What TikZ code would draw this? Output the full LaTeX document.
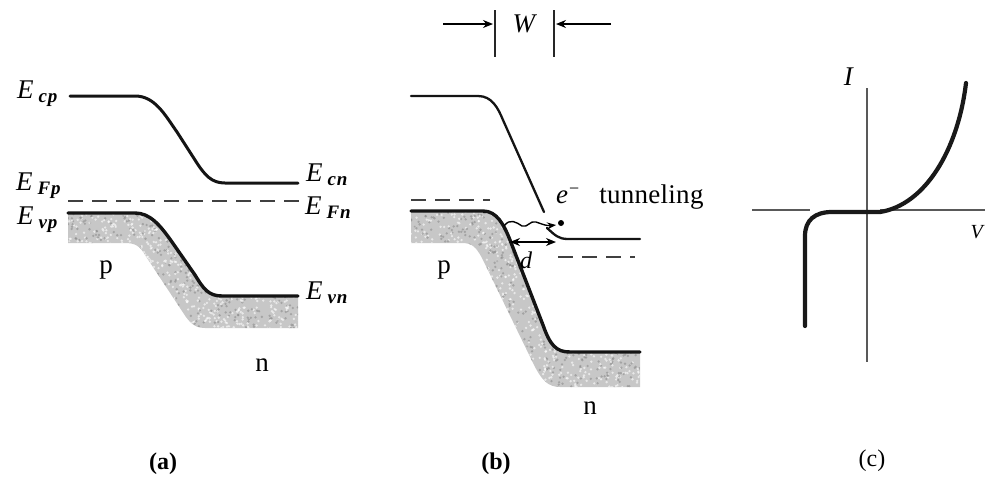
\documentclass[tikz,border=0pt]{standalone}
\usepackage{fontspec}
\setmainfont{Liberation Serif}
\usetikzlibrary{arrows.meta}
\newcommand{\bandlab}[2]{\textit{#1}\kern5pt\raisebox{-4pt}{\fontsize{19}{19}\selectfont\bfseries\itshape\addfontfeature{LetterSpace=4}#2}}
\tikzset{
  band/.style={line width=3pt,line cap=round,black!92},
  thinband/.style={line width=2.3pt,line cap=round,black!92},
  fermi/.style={line width=1.8pt,dash pattern=on 15pt off 9pt,black!75},
  axis/.style={line width=1.3pt,black!65},
  lab/.style={inner sep=0pt,font=\fontsize{27}{27}\selectfont},
  caplab/.style={inner sep=0pt,font=\fontsize{24}{24}\selectfont},
  shade/.style={fill=black!22,draw=none},
  dimarrow/.style={line width=1.3pt,-{Stealth[length=10pt,width=8pt]}},
}
\newcommand{\specks}[6]{% seed, x0, xspan, y0, yspan, count
  \pgfmathsetseed{#1}%
  \foreach \i in {1,...,#6}{%
    \pgfmathsetmacro{\px}{#2+rnd*#3}%
    \pgfmathsetmacro{\py}{#4+rnd*#5}%
    \pgfmathsetmacro{\pg}{rnd>0.55?45:0}%
    \fill[black!\pg!white,opacity=.6] (\px,\py) circle (1.3);%
  }}
\begin{document}
\begin{tikzpicture}[x=1pt,y=-1pt]
\useasboundingbox (0,0) rectangle (986,480);
% panel a shading
\begin{scope}
\clip (68,213) -- (135,213) .. controls (150,213) and (160,225) .. (172,242) -- (195,275) .. controls (203,288) and (208,296) .. (222,296) -- (298,296) -- (298,328) -- (205,328) .. controls (192,328) and (188,320) .. (180,308) -- (145,255) .. controls (140,246) and (135,243) .. (125,243) -- (68,243) -- cycle;
\fill[shade] (60,205) rectangle (305,335);
\specks{11}{60}{245}{205}{130}{1800}
\end{scope}
% panel b shading
\begin{scope}
\clip (411,211) -- (483,211) .. controls (497,211) and (504,225) .. (510,240) -- (543,325) .. controls (550,345) and (556,352) .. (570,352) -- (640,352) -- (640,387) -- (560,387) .. controls (548,387) and (542,380) .. (535,367) -- (482,258) .. controls (476,247) and (472,243) .. (462,243) -- (411,243) -- cycle;
\fill[shade] (405,205) rectangle (645,395);
\specks{23}{405}{240}{205}{190}{2400}
\end{scope}
% panel a lines
\draw[band] (70,96) -- (135,96) .. controls (155,96) and (165,115) .. (177,132) -- (195,160) .. controls (205,176) and (212,183) .. (225,183) -- (298,183);
\draw[fermi] (68,201) -- (302,201);
\draw[band,line width=3.4pt] (68,213) -- (135,213) .. controls (150,213) and (160,225) .. (172,242) -- (195,275) .. controls (203,288) and (208,296) .. (222,296) -- (298,296);
% panel b lines
\draw[thinband] (411,96) -- (478,96) .. controls (492,96) and (498,108) .. (503,120) -- (544,212);
\draw[fermi] (411,200) -- (490,200);
\draw[band,line width=3.4pt] (411,211) -- (483,211) .. controls (497,211) and (504,225) .. (510,240) -- (543,325) .. controls (550,345) and (556,352) .. (570,352) -- (640,352);
\draw[thinband] (547,228) .. controls (555,235) and (558,239) .. (568,239) -- (640,239);
\draw[fermi] (558,257) -- (635,257);
% tunneling marks
\coordinate (wavestart) at (504,226);
\coordinate (waveend) at (556,225);
\draw[line width=1.4pt,-{Stealth[length=9pt,width=7pt]}] (wavestart) .. controls (510,218) and (516,222) .. (522,226) .. controls (528,228) and (530,220) .. (536,222) .. controls (542,224) and (546,226) .. (waveend);
\coordinate (dleft) at (510,242);
\coordinate (dright) at (556,242);
\draw[line width=1.8pt,{Stealth[length=10pt,width=8pt]}-{Stealth[length=10pt,width=8pt]}] (dleft) -- (dright);
\fill (561,223) circle (3);
\node[lab,font=\fontsize{24}{24}\selectfont\itshape] (dlab) at (526,260) {d};
% W marks
\draw[line width=1.7pt,black!85] (495,10) -- (495,57);
\draw[line width=1.7pt,black!85] (554,10) -- (554,57);
\coordinate (wl) at (443,24);
\coordinate (wlt) at (493,24);
\coordinate (wr) at (611,24);
\coordinate (wrt) at (556,24);
\draw[dimarrow] (wl) -- (wlt);
\draw[dimarrow] (wr) -- (wrt);
\node[lab] (wlab) at (525,24) {\textit{W}};
% panel c
\draw[axis] (867,88) -- (867,362);
\draw[axis] (752,210) -- (810,210);
\draw[axis] (880,210) -- (985,210);
\draw[line width=4.2pt,line cap=round,black!90] (805,326) -- (805,236) .. controls (805,220) and (815,212) .. (832,212) -- (880,212) .. controls (925,205) and (958,150) .. (966,83);
\node[lab,anchor=center] (ilab) at (849,77) {\textit{I}};
\node[lab,anchor=east,font=\fontsize{20}{20}\selectfont] (vlab) at (985,232) {\textit{V}};
% labels a
\node[lab,anchor=west] (ecp) at (17,94) {\bandlab{E}{cp}};
\node[lab,anchor=west] (ecn) at (306,175) {\bandlab{E}{cn}};
\node[lab,anchor=west] (efp) at (16,186) {\bandlab{E}{Fp}};
\node[lab,anchor=west] (efn) at (305,208) {\bandlab{E}{Fn}};
\node[lab,anchor=west] (evp) at (17,220) {\bandlab{E}{vp}};
\node[lab,anchor=west] (evn) at (306,293) {\bandlab{E}{vn}};
\node[lab] (pa) at (106,270) {p};
\node[lab] (na) at (262,365) {n};
\node[lab] (pb) at (444,270) {p};
\node[lab] (nb) at (590,408) {n};
\node[lab,anchor=west] (tun) at (556,197) {\textit{e}\kern1pt\raisebox{9pt}{\fontsize{18}{18}\selectfont −}\kern20pt{\addfontfeature{LetterSpace=1}tunneling}};
\node[caplab,font=\fontsize{24}{24}\selectfont\bfseries] (capa) at (163,464) {(a)};
\node[caplab,font=\fontsize{24}{24}\selectfont\bfseries] (capb) at (496,464) {(b)};
\node[caplab] (capc) at (872,461) {(c)};
\end{tikzpicture}
\end{document}
